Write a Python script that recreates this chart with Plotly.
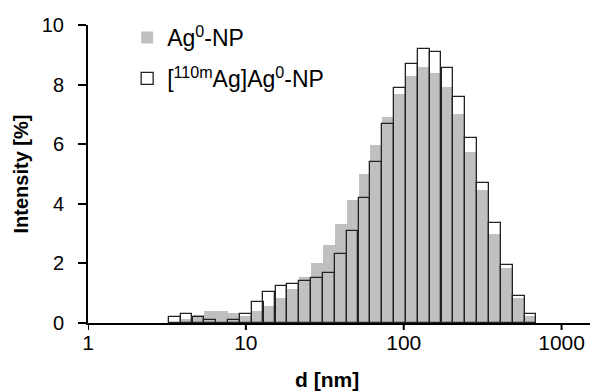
import numpy as np
import plotly.graph_objects as go

# Size bins (bin centres, nm) on a logarithmic grid
d_nm = [3.54, 4.21, 5.01, 5.95, 7.07, 8.41, 10.0, 11.9, 14.1, 16.8, 20.0,
        23.7, 28.2, 33.5, 39.9, 47.4, 56.4, 67.0, 79.7, 94.7, 112.6, 133.8,
        159.1, 189.2, 224.8, 267.3, 317.8, 377.8, 449.1, 534.0, 634.8]

# Intensity-weighted size distributions [%]
ag_np = [0.0, 0.12, 0.28, 0.40, 0.40, 0.33, 0.23, 0.40, 0.56, 0.85, 1.14,
         1.54, 2.03, 2.63, 3.31, 4.14, 5.01, 5.99, 6.91, 7.70, 8.29, 8.58,
         8.40, 7.91, 7.03, 5.75, 4.45, 3.00, 1.86, 0.85, 0.25]
ag110m_np = [0.20, 0.30, 0.20, 0.10, 0.0, 0.10, 0.30, 0.72, 1.03, 1.23, 1.32,
             1.40, 1.51, 1.69, 2.30, 3.10, 4.21, 5.39, 6.69, 7.88, 8.69, 9.19,
             9.09, 8.57, 7.58, 6.21, 4.70, 3.34, 1.93, 0.92, 0.30]

series_names = ["Ag<sup>0</sup>-NP", "[<sup>110m</sup>Ag]Ag<sup>0</sup>-NP"]
x_ticks = [1, 10, 100, 1000]
y_ticks = [0, 2, 4, 6, 8, 10]

log_d = np.log10(d_nm)
bin_w = float(np.mean(np.diff(log_d)))
log_xt = np.log10(x_ticks)

FONT = "Liberation Sans, Arial, sans-serif"

fig = go.Figure()
fig.add_bar(
    x=log_d, y=ag_np, width=bin_w, name=series_names[0], legendgroup="g1",
    marker=dict(color="#c0c0c0", line=dict(width=0)),
)
fig.add_bar(
    x=log_d, y=ag110m_np, width=bin_w, name=series_names[1], legendgroup="g2",
    marker=dict(color="rgba(255,255,255,0)", line=dict(color="#222222", width=1.3)),
)

# outward tick marks on the size axis (labels sit close under them)
tick_shapes = [
    dict(type="line", xref="x", yref="y domain", x0=v, x1=v, y0=0, y1=-7 / 298,
         line=dict(color="black", width=2))
    for v in log_xt
]

fig.update_layout(
    width=593, height=392,
    margin=dict(l=88, r=3, t=25, b=69),
    paper_bgcolor="white", plot_bgcolor="white",
    barmode="overlay", bargap=0,
    font=dict(family=FONT, size=20, color="black"),
    showlegend=True,
    legend=dict(
        x=0.078, y=1.03, xanchor="left", yanchor="top",
        bgcolor="rgba(0,0,0,0)", borderwidth=0,
        font=dict(family=FONT, size=23, color="black"),
        tracegroupgap=8,
    ),
    xaxis=dict(
        range=[0, 3.18],
        tickvals=log_xt, ticktext=[str(v) for v in x_ticks],
        ticks="", tickfont=dict(size=21),
        showline=True, linewidth=2, linecolor="black",
        showgrid=False, zeroline=False,
    ),
    yaxis=dict(
        range=[0, 10], tickvals=y_ticks,
        ticks="outside", ticklen=8, tickwidth=2, tickcolor="black",
        ticklabelstandoff=10,
        showline=True, linewidth=2, linecolor="black",
        showgrid=False, zeroline=False,
        title=dict(text="<b>Intensity [%]</b>", font=dict(family=FONT, size=20), standoff=8),
    ),
    shapes=tick_shapes,
    annotations=[
        dict(text="<b>d [nm]</b>", xref="paper", yref="paper",
             x=0.476, y=-0.19, xanchor="center", yanchor="middle",
             showarrow=False, font=dict(family=FONT, size=21, color="black")),
    ],
)

fig.write_html("out.html")
